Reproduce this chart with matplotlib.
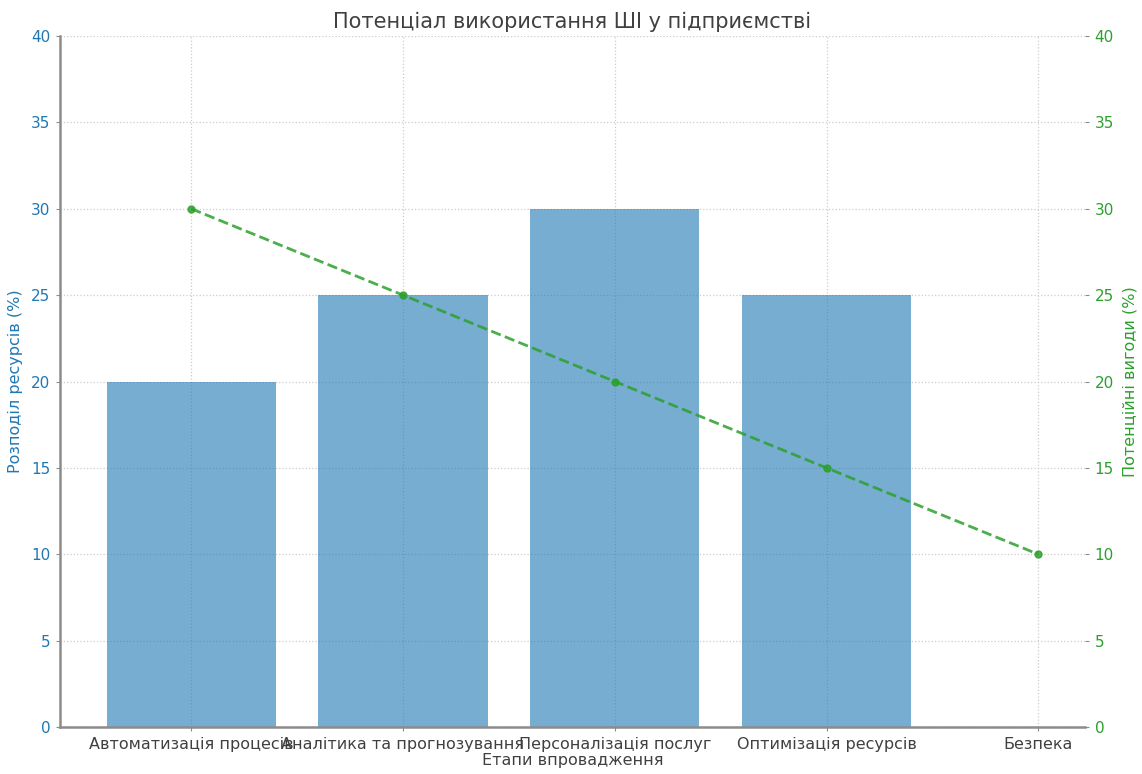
import matplotlib
matplotlib.use("Agg")
import matplotlib.pyplot as plt

categories = ["Автоматизація процесів", "Аналітика та прогнозування",
              "Персоналізація послуг", "Оптимізація ресурсів", "Безпека"]
resource_share = [20, 25, 30, 25]
potential_benefit = [30, 25, 20, 15, 10]
y_ticks = [0, 5, 10, 15, 20, 25, 30, 35, 40]

title = "Потенціал використання ШІ у підприємстві"
xlabel = "Етапи впровадження"
ylabel_left = "Розподіл ресурсів (%)"
ylabel_right = "Потенційні вигоди (%)"

blue = "#1f77b4"
green = "#2ca02c"
spine_grey = "#8c8c8c"
text_grey = "#404040"

plt.rcParams['font.family'] = ['DejaVu Sans']

fig = plt.figure(figsize=(11.42, 7.74), dpi=100)
ax1 = fig.add_axes([0.0525, 0.0607, 0.8975, 0.8928])
ax2 = ax1.twinx()

x_all = list(range(len(categories)))
x_bars = x_all[:len(resource_share)]

ax1.bar(x_bars, resource_share, width=0.8, color=blue, alpha=0.6, zorder=2)
ax2.plot(x_all, potential_benefit, color=green, linestyle="--", linewidth=2,
         marker="o", markersize=5, alpha=0.85, zorder=3)

ax1.set_xlim(-0.62, 4.22)
ax1.set_ylim(0, 40)
ax2.set_ylim(0, 40)
ax1.set_yticks(y_ticks)
ax2.set_yticks(y_ticks)
ax1.set_xticks(x_all)
ax1.set_xticklabels(categories, fontsize=11.5, color=text_grey)

ax1.grid(True, linestyle=":", color="#cccccc", linewidth=0.9, zorder=0)
ax1.set_axisbelow(True)

for ax in (ax1, ax2):
    for side in ("top", "right", "left", "bottom"):
        ax.spines[side].set_visible(False)
ax1.spines["left"].set_visible(True)
ax1.spines["bottom"].set_visible(True)
ax1.spines["left"].set_color(spine_grey)
ax1.spines["bottom"].set_color(spine_grey)
ax1.spines["left"].set_linewidth(1.8)
ax1.spines["bottom"].set_linewidth(1.8)

ax1.tick_params(axis="y", colors=spine_grey, labelcolor=blue, labelsize=11, length=3, pad=4)
ax1.tick_params(axis="x", colors=spine_grey, labelcolor=text_grey, length=3, pad=4)
ax2.tick_params(axis="y", colors=spine_grey, labelcolor=green, labelsize=11, length=3, pad=4)

ax1.set_ylabel(ylabel_left, color=blue, fontsize=11.5, labelpad=6)
ax2.set_ylabel(ylabel_right, color=green, fontsize=11.5, labelpad=6)
ax1.set_xlabel(xlabel, color=text_grey, fontsize=11.5, labelpad=1)
ax1.set_title(title, color=text_grey, fontsize=15, pad=6)

fig.savefig("out.png", dpi=100)
